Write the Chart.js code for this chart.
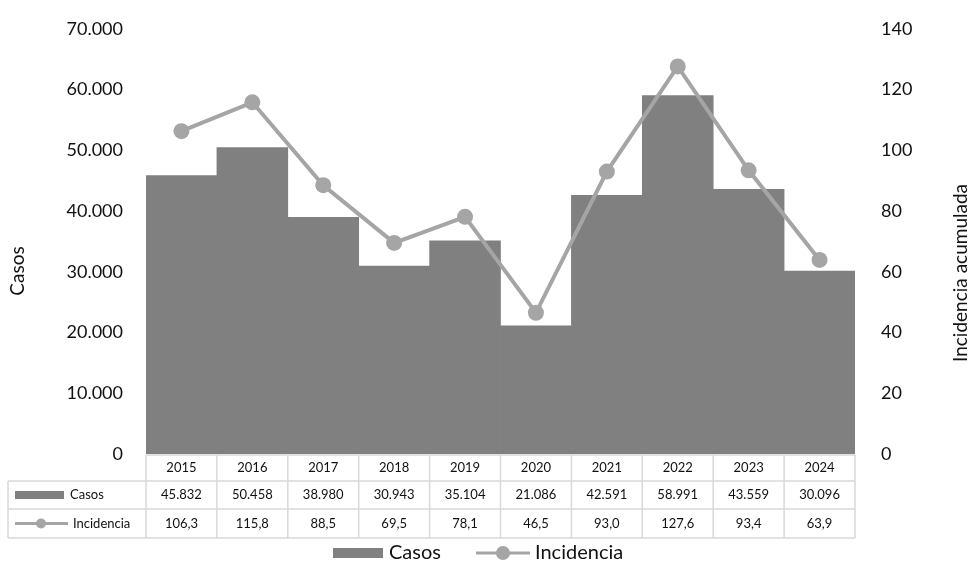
<!DOCTYPE html>
<html>
<head>
<meta charset="utf-8">
<script src="https://cdn.jsdelivr.net/npm/chart.js@4.4.1/dist/chart.umd.min.js"></script>
<style>
  html, body { margin: 0; padding: 0; background: #fff; }
  #wrap { width: 969px; height: 583px; position: relative; }
</style>
</head>
<body>
<div id="wrap"><canvas id="myChart" width="969" height="583"></canvas></div>
<script>
var years = ['2015', '2016', '2017', '2018', '2019', '2020', '2021', '2022', '2023', '2024'];
var casos = [45832, 50458, 38980, 30943, 35104, 21086, 42591, 58991, 43559, 30096];
var incidencia = [106.3, 115.8, 88.5, 69.5, 78.1, 46.5, 93.0, 127.6, 93.4, 63.9];
var casosTicks = [0, 10000, 20000, 30000, 40000, 50000, 60000, 70000];
var incTicks = [0, 20, 40, 60, 80, 100, 120, 140];

var FONT = 'Lato, "Liberation Sans", sans-serif';
var barColor = '#808080';
var lineColor = '#a5a5a5';
var gridColor = '#d9d9d9';

function miles(v) {
    return String(Math.round(v)).replace(/\B(?=(\d{3})+(?!\d))/g, '.');
}
function coma(v) {
    return v.toFixed(1).replace('.', ',');
}

// data table, legend and axis titles drawn round the plot
var tablePlugin = {
    id: 'tabla',
    afterDraw: function (chart) {
        var ctx = chart.ctx;
        var x = chart.scales.x;
        var area = chart.chartArea;
        var half = (area.right - area.left) / years.length / 2;
        var rows = [area.bottom + 1, 481, 509, 538];
        var left = 8;
        var casosLbl = 'Casos', incLbl = 'Incidencia';

        ctx.save();
        ctx.strokeStyle = gridColor;
        ctx.lineWidth = 1.5;
        ctx.beginPath();
        ctx.moveTo(area.left, rows[0]); ctx.lineTo(area.right, rows[0]);
        for (var r = 1; r < rows.length; r++) {
            ctx.moveTo(left, rows[r]); ctx.lineTo(area.right, rows[r]);
        }
        ctx.moveTo(left, rows[1]); ctx.lineTo(left, rows[3]);
        for (var i = 0; i <= years.length; i++) {
            var px = area.left + i * half * 2;
            ctx.moveTo(px, rows[0]); ctx.lineTo(px, rows[3]);
        }
        ctx.stroke();

        ctx.fillStyle = '#111';
        ctx.font = '13px ' + FONT;
        ctx.textAlign = 'center';
        ctx.textBaseline = 'middle';
        for (var j = 0; j < years.length; j++) {
            var cx = x.getPixelForValue(j);
            ctx.fillText(years[j], cx, (rows[0] + rows[1]) / 2);
            ctx.fillText(miles(casos[j]), cx, (rows[1] + rows[2]) / 2);
            ctx.fillText(coma(incidencia[j]), cx, (rows[2] + rows[3]) / 2);
        }

        // row keys
        var y1 = (rows[1] + rows[2]) / 2;
        var y2 = (rows[2] + rows[3]) / 2;
        ctx.fillStyle = barColor;
        ctx.fillRect(15, y1 - 4, 49, 8);
        ctx.strokeStyle = lineColor;
        ctx.lineWidth = 3;
        ctx.beginPath();
        ctx.moveTo(15, y2); ctx.lineTo(68, y2);
        ctx.stroke();
        ctx.fillStyle = lineColor;
        ctx.beginPath();
        ctx.arc(41, y2, 5, 0, Math.PI * 2);
        ctx.fill();
        ctx.fillStyle = '#111';
        ctx.textAlign = 'left';
        ctx.fillText(casosLbl, 70, y1);
        ctx.fillText(incLbl, 73, y2);

        // legend
        var ly = 553;
        ctx.font = '20px ' + FONT;
        ctx.fillStyle = barColor;
        ctx.fillRect(333, ly - 5, 50, 10);
        ctx.fillStyle = '#111';
        ctx.fillText(casosLbl, 389, ly);
        ctx.strokeStyle = lineColor;
        ctx.lineWidth = 3;
        ctx.beginPath();
        ctx.moveTo(476, ly); ctx.lineTo(530, ly);
        ctx.stroke();
        ctx.fillStyle = lineColor;
        ctx.beginPath();
        ctx.arc(503, ly, 7, 0, Math.PI * 2);
        ctx.fill();
        ctx.fillStyle = '#111';
        ctx.fillText(incLbl, 535, ly);

        // axis titles, both read bottom to top
        ctx.font = '19px ' + FONT;
        ctx.textAlign = 'center';
        ctx.save();
        ctx.translate(18, 271);
        ctx.rotate(-Math.PI / 2);
        ctx.fillText('Casos', 0, 0);
        ctx.restore();
        ctx.save();
        ctx.translate(961, 273);
        ctx.rotate(-Math.PI / 2);
        ctx.fillText('Incidencia acumulada', 0, 0);
        ctx.restore();
        ctx.restore();
    }
};

var ctx = document.getElementById('myChart').getContext('2d');
var chart = new Chart(ctx, {
    type: 'bar',
    data: {
        labels: years,
        datasets: [{
            type: 'line',
            label: 'Incidencia',
            data: incidencia,
            yAxisID: 'y1',
            borderColor: lineColor,
            backgroundColor: lineColor,
            borderWidth: 4,
            pointRadius: 8,
            pointHoverRadius: 8,
            pointBackgroundColor: lineColor,
            pointBorderWidth: 0,
            tension: 0,
            order: 0
        }, {
            type: 'bar',
            label: 'Casos',
            data: casos,
            yAxisID: 'y',
            backgroundColor: barColor,
            borderWidth: 0,
            categoryPercentage: 1,
            barPercentage: 1,
            order: 1
        }]
    },
    options: {
        responsive: false,
        animation: false,
        layout: { padding: { top: 17, bottom: 129, left: 0, right: 0 } },
        plugins: {
            legend: { display: false },
            tooltip: { enabled: false }
        },
        scales: {
            x: { display: false, offset: true },
            y: {
                position: 'left',
                min: 0, max: 70000,
                afterBuildTicks: function (s) { s.ticks = casosTicks.map(function (v) { return { value: v }; }); },
                afterFit: function (s) { s.width = 146; },
                grid: { display: false },
                border: { display: false },
                ticks: {
                    padding: 15,
                    color: '#111',
                    font: { family: FONT, size: 18 },
                    callback: function (v) { return miles(v); }
                }
            },
            y1: {
                position: 'right',
                min: 0, max: 140,
                afterBuildTicks: function (s) { s.ticks = incTicks.map(function (v) { return { value: v }; }); },
                afterFit: function (s) { s.width = 114; },
                grid: { display: false },
                border: { display: false },
                ticks: {
                    padding: 18,
                    color: '#111',
                    font: { family: FONT, size: 18 },
                    callback: function (v) { return String(v); }
                }
            }
        }
    },
    plugins: [tablePlugin]
});
</script>
</body>
</html>
